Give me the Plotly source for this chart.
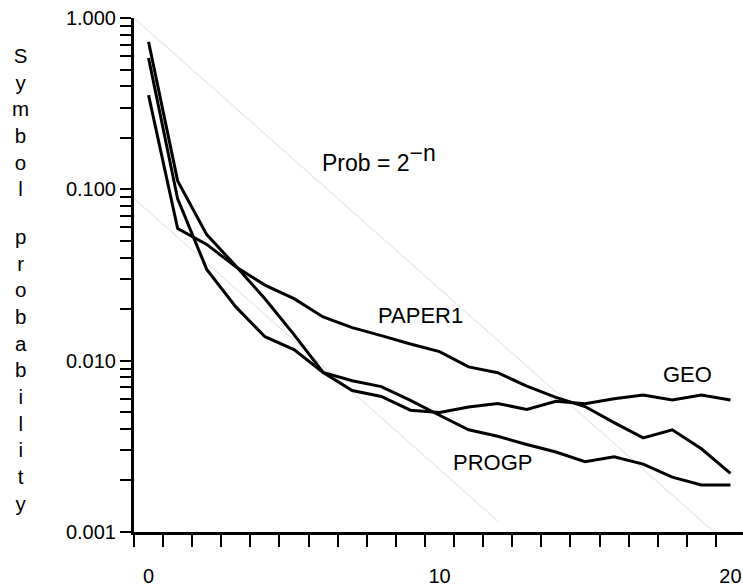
import plotly.graph_objects as go

# ---- data ----
n_vals = list(range(21))
geo = [0.584, 0.0879, 0.0341, 0.0206, 0.0138, 0.0116, 0.00853, 0.00669, 0.00618, 0.00514,
       0.00499, 0.00537, 0.00562, 0.00519, 0.00579, 0.0056, 0.0060, 0.0063, 0.0059, 0.0063, 0.0059]
paper1 = [0.355, 0.0591, 0.0477, 0.0353, 0.0276, 0.0230, 0.0180, 0.0156, 0.0140, 0.0125,
          0.0113, 0.0092, 0.0085, 0.0071, 0.0061, 0.0054, 0.00435, 0.00354, 0.00395, 0.00306, 0.00220]
progp = [0.726, 0.112, 0.0544, 0.0357, 0.0230, 0.0142, 0.00853, 0.00764, 0.00706, 0.00586,
         0.00480, 0.00395, 0.00362, 0.00324, 0.00293, 0.00257, 0.00275, 0.00249, 0.00209, 0.00188, 0.00188]

# reference lines "Prob = 2^-n" (end points)
ref_upper_x = [-0.5, 19.5]
ref_upper_y = [1.0, 0.000977]
ref_lower_x = [-0.5, 12.0]
ref_lower_y = [0.0884, 0.00116]

x_tick_vals = [0, 10, 20]
x_tick_text = ["0", "10", "20"]
x_minor_vals = [k - 0.5 for k in range(21)]

y_tick_vals = [0.001, 0.01, 0.1, 1.0]
y_tick_text = ["0.001", "0.010", "0.100", "1.000"]
y_minor_vals = [m * 10.0 ** e for e in (-3, -2, -1) for m in range(2, 10)]

series_labels = ["GEO", "PAPER1", "PROGP"]
y_title_words = ["Symbol", "probability"]

FONT = "Liberation Sans, Arial, sans-serif"

fig = go.Figure()
for xs, ys in ((ref_upper_x, ref_upper_y), (ref_lower_x, ref_lower_y)):
    fig.add_trace(go.Scatter(x=xs, y=ys, mode="lines",
                             line=dict(color="#dcdcdc", width=1), hoverinfo="skip"))
for ys in (geo, paper1, progp):
    fig.add_trace(go.Scatter(x=n_vals, y=ys, mode="lines",
                             line=dict(color="black", width=3)))

# series labels
label_pos = {"PAPER1": (9.36, -1.735), "GEO": (18.52, -2.078), "PROGP": (11.82, -2.595)}
for name in series_labels:
    lx, ly = label_pos[name]
    fig.add_annotation(x=lx, y=ly, xref="x", yref="y", text=name, showarrow=False,
                       font=dict(family=FONT, size=22, color="black"),
                       xanchor="center", yanchor="middle")

fig.add_annotation(x=5.9, y=-0.815, xref="x", yref="y",
                   text="Prob = 2<sup><span style=\"font-size:23px\">\u2212n</span></sup>",
                   showarrow=False, font=dict(family=FONT, size=23, color="black"),
                   xanchor="left", yanchor="middle")

# vertical stacked y-axis title (one letter per line)
for word, ypos in zip(y_title_words, [0.7975, 0.3157]):
    fig.add_annotation(x=-0.1856, y=ypos, xref="paper", yref="paper",
                       text="<br>".join(list(word)), showarrow=False,
                       font=dict(family=FONT, size=20.5, color="black"),
                       xanchor="center", yanchor="middle", align="center")

fig.update_layout(
    width=743, height=587,
    margin=dict(l=134, r=0, t=18, b=48),
    plot_bgcolor="white", paper_bgcolor="white",
    showlegend=False,
    font=dict(family=FONT, size=20, color="black"),
    xaxis=dict(
        range=[-0.5, 20.43], tickmode="array", tickvals=x_tick_vals, ticktext=x_tick_text,
        ticks="", showline=True, linewidth=3, linecolor="black",
        showgrid=False, zeroline=False, ticklabelstandoff=24,
        tickfont=dict(family=FONT, size=20, color="black"),
        minor=dict(ticks="outside", tickmode="array", tickvals=x_minor_vals,
                   ticklen=12, tickwidth=2, tickcolor="black", showgrid=False),
    ),
    yaxis=dict(
        type="log", range=[-3, 0], tickmode="array", tickvals=y_tick_vals, ticktext=y_tick_text,
        ticks="outside", ticklen=11, tickwidth=1.5, tickcolor="black",
        showline=True, linewidth=3, linecolor="black",
        showgrid=False, zeroline=False,
        tickfont=dict(family=FONT, size=20, color="black"),
        minor=dict(ticks="outside", tickmode="array", tickvals=y_minor_vals,
                   ticklen=11, tickwidth=1.5, tickcolor="black", showgrid=False),
    ),
)

fig.write_html("out.html")
